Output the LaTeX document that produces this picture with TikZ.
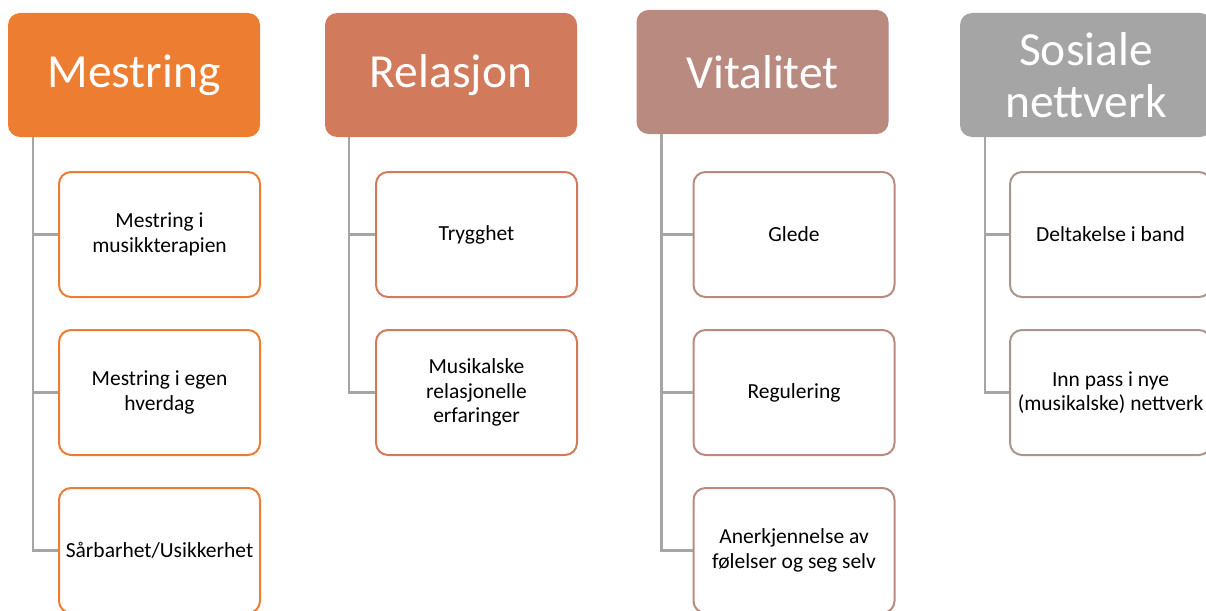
\documentclass[tikz,border=0pt]{standalone}
\usepackage{fontspec}
\setmainfont{Carlito}
\usepackage{xcolor}
\usetikzlibrary{positioning}

\definecolor{cMes}{HTML}{ED7D31}
\definecolor{cRel}{HTML}{D27B5C}
\definecolor{cVit}{HTML}{B98A80}
\definecolor{cSos}{HTML}{A5A5A5}
\definecolor{cSosB}{HTML}{A8968F}
\definecolor{cLine}{HTML}{A5A5A5}

\begin{document}
\begin{tikzpicture}[x=1pt,y=-1pt,node distance=31pt,
  hdr/.style={fill=#1,text=white,rounded corners=12pt,minimum width=252pt,minimum height=124pt,
    align=center,inner sep=0pt,font=\fontsize{47.5}{52}\selectfont},
  sub/.style={draw=#1,fill=white,line width=2pt,rounded corners=12pt,minimum width=201pt,
    minimum height=125pt,align=center,inner sep=0pt,font=\fontsize{21.5}{24.5}\selectfont},
  conn/.style={draw=cLine,line width=2.5pt}]
  \useasboundingbox (0,0) rectangle (1206,610);

  \node[hdr=cMes] (Mestring) at (134,75) {Mestring};
  \node[hdr=cRel] (Relasjon) at (451,75) {Relasjon};
  \node[hdr=cVit] (Vitalitet) at (762.5,72) {Vitalitet};
  \node[hdr=cSos] (Sosiale) at (1086,75) {Sosiale\\nettverk};

  \node[sub=cMes] (M1) at (159.5,234.5) {Mestring i\\musikkterapien};
  \node[sub=cMes] (M2) [below=of M1] {Mestring i egen\\hverdag};
  \node[sub=cMes] (M3) [below=of M2] {Sårbarhet/Usikkerhet};

  \node[sub=cRel] (R1) at (476.5,234.5) {Trygghet};
  \node[sub=cRel] (R2) [below=of R1] {Musikalske\\relasjonelle\\erfaringer};

  \node[sub=cVit] (V1) at (794,234.5) {Glede};
  \node[sub=cVit] (V2) [below=of V1] {Regulering};
  \node[sub=cVit] (V3) [below=of V2] {Anerkjennelse av\\følelser og seg selv};

  \node[sub=cSosB] (S1) at (1110.5,234.5) {Deltakelse i band};
  \node[sub=cSosB] (S2) [below=of S1] {Inn pass i nye\\(musikalske) nettverk};

  \path[conn] ([xshift=25pt]Mestring.south west) |- (M1.west);
  \path[conn] ([xshift=25pt]Mestring.south west) |- (M2.west);
  \path[conn] ([xshift=25pt]Mestring.south west) |- (M3.west);
  \path[conn] ([xshift=24pt]Relasjon.south west) |- (R1.west);
  \path[conn] ([xshift=24pt]Relasjon.south west) |- (R2.west);
  \path[conn] ([xshift=25pt]Vitalitet.south west) |- (V1.west);
  \path[conn] ([xshift=25pt]Vitalitet.south west) |- (V2.west);
  \path[conn] ([xshift=25pt]Vitalitet.south west) |- (V3.west);
  \path[conn] ([xshift=25pt]Sosiale.south west) |- (S1.west);
  \path[conn] ([xshift=25pt]Sosiale.south west) |- (S2.west);
\end{tikzpicture}
\end{document}
